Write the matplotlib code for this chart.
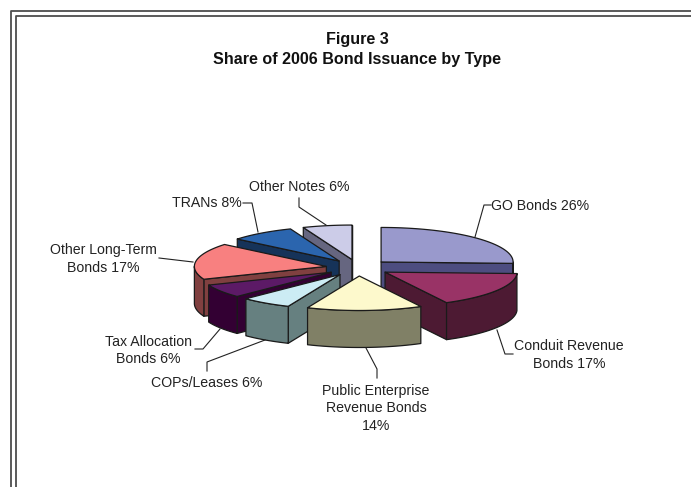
import numpy as np
import matplotlib
matplotlib.use("Agg")
import matplotlib.pyplot as plt
from matplotlib.patches import Polygon

plt.rcParams['font.family'] = ['Liberation Sans', 'DejaVu Sans']

W, H = 691, 487

# clockwise from 12 o'clock
names = ["GO", "Conduit", "Public", "COPs", "Tax", "LongTerm", "TRANs", "Notes"]
shares = [25.6, 16.6, 14.1, 6.2, 6.3, 17.0, 8.0, 6.0]
top_colors = ["#9999cc", "#993366", "#fdf9cc", "#ccecf4", "#5c1a66", "#f88080", "#2b65ae", "#ccccE8"]
side_colors = ["#4d4d80", "#4d1a33", "#808066", "#668080", "#330033", "#804040", "#163359", "#666680"]
draw_order = [7, 6, 5, 4, 3, 0, 1, 2]

labels = ["GO Bonds 26%", "Conduit Revenue\nBonds 17%", "Public Enterprise\nRevenue Bonds\n14%",
          "COPs/Leases 6%", "Tax Allocation\nBonds 6%", "Other Long-Term\nBonds 17%",
          "TRANs 8%", "Other Notes 6%"]
label_pos = [(540.5, 206), (569, 355), (376, 408.5), (207, 383), (148.5, 350.5), (103, 259), (207, 203), (299, 187)]

leaders = [[(475, 237), (484, 205), (491, 205)],
           [(497, 330), (505, 354), (513, 354)],
           [(366, 348), (377, 369), (377, 378)],
           [(265, 340), (207, 362), (207, 371)],
           [(220, 329), (203, 349), (195, 349)],
           [(193, 262), (159, 258)],
           [(258, 232), (252, 203), (243, 203)],
           [(326, 225), (299, 207), (299, 198)]]

cx, cy = 358, 267.7
rx, ry = 132, 34.5
explode_x, explode_y = 32, 8.3
depth = 37


def arc(apex, a1, a2):
    t = np.radians(np.linspace(a1, a2, 60))
    return np.column_stack([apex[0] + rx * np.sin(t), apex[1] - ry * np.cos(t)])


fig = plt.figure(figsize=(W / 100, H / 100), dpi=100)
ax = fig.add_axes([0, 0, 1, 1])
ax.set_xlim(0, W)
ax.set_ylim(H, 0)
ax.axis('off')

# double frame, runs off the right and bottom of the page
ax.plot([11, 11, W], [H, 10.5, 10.5], color='#4d4d4d', lw=1.3)
ax.plot([16, 16, W], [H, 15.5, 15.5], color='#4d4d4d', lw=1.3)

ax.text(357, 39.5, "Figure 3", ha='center', va='center', fontsize=11.6, fontweight='bold', color='#111111')
ax.text(357, 59.5, "Share of 2006 Bond Issuance by Type", ha='center', va='center', fontsize=11.6,
        fontweight='bold', color='#111111')

edges = np.cumsum([0] + shares) / sum(shares) * 360
edge = dict(edgecolor='#1a1a1a', linewidth=0.9, joinstyle='round')

for i in draw_order:
    a1, a2 = edges[i], edges[i + 1]
    mid = np.radians((a1 + a2) / 2)
    apex = np.array([cx + explode_x * np.sin(mid), cy - explode_y * np.cos(mid)])
    down = np.array([0, depth])
    rim = arc(apex, a1, a2)

    # radial walls, only the ones facing the viewer
    if np.sin(np.radians(a1)) < 0:
        ax.add_patch(Polygon([apex, rim[0], rim[0] + down, apex + down], facecolor=side_colors[i], **edge))
    if np.sin(np.radians(a2)) > 0:
        ax.add_patch(Polygon([apex, rim[-1], rim[-1] + down, apex + down], facecolor=side_colors[i], **edge))
    # outer wall, front half only
    f1, f2 = max(a1, 90), min(a2, 270)
    if f2 > f1:
        band = arc(apex, f1, f2)
        ax.add_patch(Polygon(np.vstack([band, band[::-1] + down]), facecolor=side_colors[i], **edge))
    ax.add_patch(Polygon(np.vstack([apex, rim]), facecolor=top_colors[i], **edge))

for line in leaders:
    xs, ys = zip(*line)
    ax.plot(xs, ys, color='#222222', lw=0.8)

for text, (x, y) in zip(labels, label_pos):
    ax.text(x, y, text, ha='center', va='center', fontsize=10.2, linespacing=1.3, color='#222222')

fig.savefig("out.png", dpi=100)
